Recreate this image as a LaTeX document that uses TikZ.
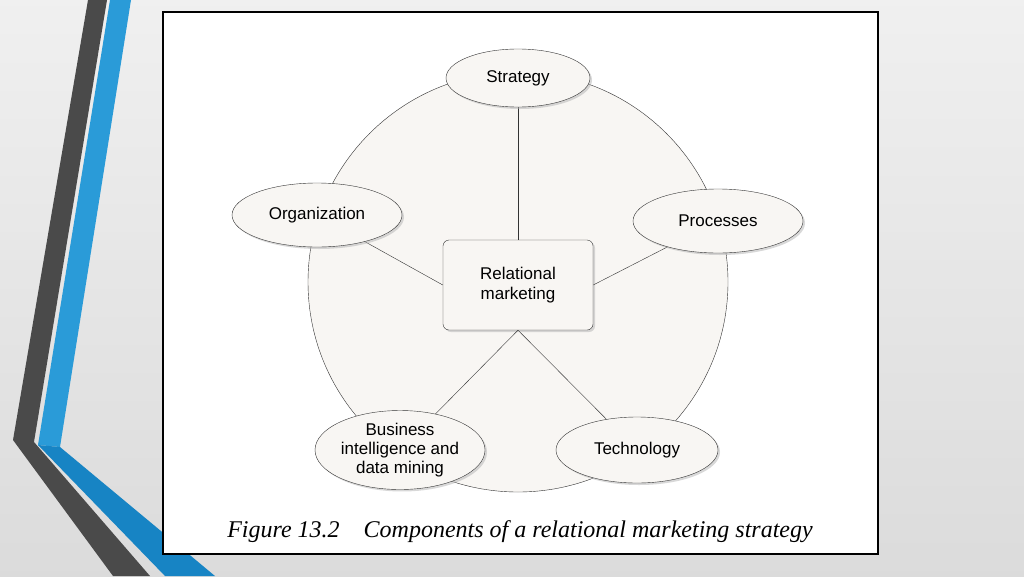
\documentclass[tikz,border=0pt]{standalone}
\usepackage{fontspec}
\setmainfont{Liberation Serif}
\newfontfamily\labelfont{Liberation Sans}
\usetikzlibrary{shapes.geometric,shadows}
\definecolor{bandgray}{HTML}{4A4A4A}
\definecolor{bandblue}{HTML}{2A9BD8}
\definecolor{bandblue2}{HTML}{1784C4}
\definecolor{disc}{HTML}{F8F6F3}
\definecolor{ink}{HTML}{333333}
\tikzset{
  part/.style = {ellipse, draw=ink, fill=disc, minimum width=170pt, minimum height=64pt,
    align=center, inner sep=1pt, font=\labelfont\fontsize{17}{18}\selectfont,
    drop shadow={shadow xshift=2pt, shadow yshift=-2pt, fill=gray!60}},
  core/.style = {rounded corners=6pt, draw=ink, fill=disc, minimum width=150pt, minimum height=90pt,
    align=center, font=\labelfont\fontsize{17}{20}\selectfont,
    drop shadow={shadow xshift=2pt, shadow yshift=-2pt, fill=gray!60}},
  link/.style = {draw=ink, thin}
}
\begin{document}
\begin{tikzpicture}[x=1pt, y=-1pt]
\useasboundingbox (0,0) rectangle (1024,576);
\shade[top color=gray!12, bottom color=gray!28] (0,0) rectangle (1024,576);
% left ribbons
\fill[bandgray] (88,0) -- (107,0) -- (34,442) -- (150,576) -- (113,576) -- (13,440) -- cycle;
\fill[bandblue] (110,0) -- (131,0) -- (60,447) -- (38,445) -- cycle;
\fill[bandblue2] (38,445) -- (60,447) -- (215,576) -- (165,576) -- cycle;
% frame
\draw[fill=white, line width=1.2pt] (163,12) rectangle (878,554);
\draw[draw=ink, fill=disc] (518,282) circle (210);
\coordinate (stc) at (518,78);
\coordinate (orgc) at (317,215);
\coordinate (proc) at (718,221);
\coordinate (bic) at (400,450);
\coordinate (tecc) at (637,450);
\node[core] (rm) at (518,285) {Relational\\marketing};
\path[link] (stc) -- (rm.north);
\path[link] (orgc) -- (rm.west);
\path[link] (proc) -- (rm.east);
\path[link] (bic) -- (rm.south);
\path[link] (tecc) -- (rm.south);
\node[part] (st) at (stc) [minimum width=144pt, minimum height=58pt] {Strategy};
\node[part] (org) at (orgc) {Organization};
\node[part] (pro) at (proc) {Processes};
\node[part] (bi) at (bic) [minimum height=72pt, font=\labelfont\fontsize{17}{19}\selectfont] {Business\\intelligence and\\data mining};
\node[part] (tec) at (tecc) [minimum width=162pt, minimum height=66pt] {Technology};
\node (cap) at (520,532) {\fontsize{24}{26}\selectfont\itshape Figure 13.2\quad Components of a relational marketing strategy};
\end{tikzpicture}
\end{document}
